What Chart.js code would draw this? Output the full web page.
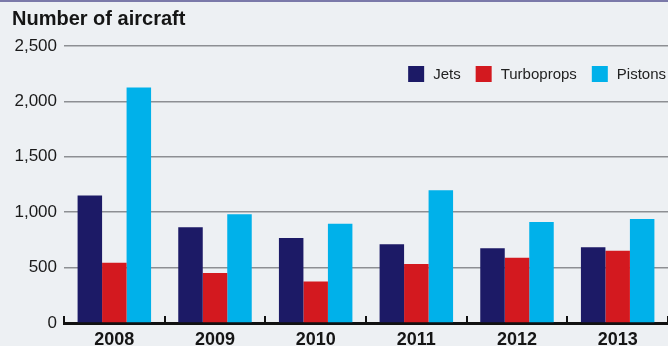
<!DOCTYPE html>
<html>
<head>
<meta charset="utf-8">
<script src="https://cdn.jsdelivr.net/npm/chart.js@4.4.1/dist/chart.umd.min.js"></script>
<style>
  html, body { margin: 0; padding: 0; background: #edf0f3; }
  body { width: 668px; height: 346px; overflow: hidden; }
  #wrap { position: relative; width: 668px; height: 346px; border-top: 2px solid #7b79a9; box-sizing: border-box; }
  canvas { display: block; }
</style>
</head>
<body>
<div id="wrap"><canvas id="aircraftChart" width="668" height="344"></canvas></div>
<script>
// Aircraft deliveries by type, 2008-2013
const years = ['2008', '2009', '2010', '2011', '2012', '2013'];
const jets = [1150, 865, 768, 710, 675, 683];
const turboprops = [543, 451, 374, 532, 589, 652];
const pistons = [2125, 981, 896, 1198, 911, 939];
const yTicks = [0, 500, 1000, 1500, 2000, 2500];

const seriesColors = { jets: '#1c1a66', turboprops: '#d3191f', pistons: '#00b1ea' };

// Short upward ticks on the x axis at each category boundary
const boundaryTicks = {
    id: 'boundaryTicks',
    afterDatasetsDraw(chart) {
        const ctx = chart.ctx;
        const x = chart.scales.x;
        const area = chart.chartArea;
        const half = (x.getPixelForValue(1) - x.getPixelForValue(0)) / 2;
        ctx.save();
        ctx.strokeStyle = '#111';
        ctx.lineWidth = 2;
        for (let i = 0; i <= years.length; i++) {
            const px = Math.round(x.getPixelForValue(i) - half);
            ctx.beginPath();
            ctx.moveTo(px, area.bottom);
            ctx.lineTo(px, area.bottom - 7);
            ctx.stroke();
        }
        ctx.restore();
    }
};

// Legend drawn inside the plot, right aligned
const insideLegend = {
    id: 'insideLegend',
    afterDraw(chart) {
        const ctx = chart.ctx;
        const area = chart.chartArea;
        const box = 16;
        ctx.save();
        ctx.font = '15px "Liberation Sans", Arial, sans-serif';
        ctx.textBaseline = 'middle';
        const items = chart.data.datasets.map(ds => ({ label: ds.label, color: ds.backgroundColor }));
        let total = 0;
        items.forEach((it, i) => {
            it.w = ctx.measureText(it.label).width;
            total += box + 9 + it.w + (i < items.length - 1 ? 15 : 0);
        });
        let cx = area.right - 2 - total;
        const cy = area.top + 28;
        items.forEach(it => {
            ctx.fillStyle = it.color;
            ctx.fillRect(cx, cy - box / 2, box, box);
            cx += box + 9;
            ctx.fillStyle = '#222';
            ctx.fillText(it.label, cx, cy + 1);
            cx += it.w + 15;
        });
        ctx.restore();
    }
};

const ctx = document.getElementById('aircraftChart').getContext('2d');
new Chart(ctx, {
    type: 'bar',
    data: {
        labels: years,
        datasets: [
            { label: 'Jets', data: jets, backgroundColor: seriesColors.jets },
            { label: 'Turboprops', data: turboprops, backgroundColor: seriesColors.turboprops },
            { label: 'Pistons', data: pistons, backgroundColor: seriesColors.pistons }
        ]
    },
    options: {
        responsive: false,
        animation: false,
        layout: { padding: { left: 12, right: 0, top: 0, bottom: 0 } },
        datasets: { bar: { categoryPercentage: 0.73, barPercentage: 1.0 } },
        plugins: {
            legend: { display: false },
            tooltip: { enabled: false },
            title: {
                display: true,
                text: 'Number of aircraft',
                align: 'start',
                color: '#151515',
                font: { family: '"Liberation Sans", Arial, sans-serif', size: 20, weight: 'bold' },
                padding: { top: 5, bottom: 15 }
            }
        },
        scales: {
            x: {
                grid: { display: false, drawTicks: false },
                border: { display: true, color: '#111', width: 3 },
                ticks: {
                    color: '#151515',
                    padding: 6,
                    font: { family: '"Liberation Sans", Arial, sans-serif', size: 18, weight: 'bold' }
                },
                afterFit(scale) { scale.height = 23; }
            },
            y: {
                min: 0,
                max: 2500,
                afterBuildTicks(scale) { scale.ticks = yTicks.map(v => ({ value: v })); },
                grid: { color: '#8d8f93', lineWidth: 1.5, drawTicks: false },
                border: { display: false },
                ticks: {
                    color: '#1a1a1a',
                    padding: 7,
                    font: { family: '"Liberation Sans", Arial, sans-serif', size: 17 },
                    callback: v => v.toLocaleString('en-US')
                },
                afterFit(scale) { scale.width = 52; }
            }
        }
    },
    plugins: [boundaryTicks, insideLegend]
});
</script>
</body>
</html>
